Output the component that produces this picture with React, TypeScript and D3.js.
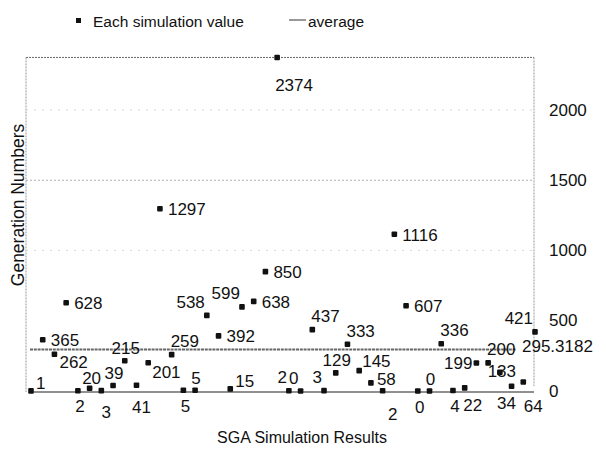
import React from "react";
import * as d3 from "d3";

// ---- data ----
const simulationValues: number[] = [
  1, 365, 262, 628, 2, 20, 3, 39, 215, 41, 201, 1297, 259, 5, 5, 538, 392, 15,
  599, 638, 850, 2374, 2, 0, 437, 3, 129, 333, 145, 58, 2, 1116, 607, 0, 0, 336,
  4, 22, 199, 200, 133, 34, 64, 421,
];
const averageValue = 295.3182;
const yTicks: number[] = [0, 500, 1000, 1500, 2000];
const gridValues: number[] = [1000, 1500, 2000];
const legendLabels: string[] = ["Each simulation value", "average"];
const xTitle = "SGA Simulation Results";
const yTitle = "Generation Numbers";
// label placement direction per point
const labelDir: string[] = [
  "ne", "e", "se2", "e", "s", "n2", "ss", "n", "n", "ss", "se", "e", "nn", "s", "n",
  "nw", "e", "ne", "nw", "e", "e", "S", "nw", "nw", "nn", "nw", "n", "nn", "ne3",
  "ne2", "ssR", "e", "e", "s", "n", "nn", "s", "sR", "w", "nn", "c", "sL", "ssR", "nw",
];

const dirStyle: Record<string, { dx: number; dy: number; anchor: string }> = {
  ne: { dx: 5, dy: -7, anchor: "start" },
  ne2: { dx: 6, dy: -3, anchor: "start" },
  ne3: { dx: 3, dy: -9, anchor: "start" },
  nn: { dx: -1, dy: -13, anchor: "start" },
  n: { dx: 1, dy: -12, anchor: "middle" },
  n2: { dx: 2, dy: -10, anchor: "middle" },
  nw: { dx: -2, dy: -13, anchor: "end" },
  e: { dx: 8, dy: 1, anchor: "start" },
  se: { dx: 4, dy: 10, anchor: "start" },
  se2: { dx: 5, dy: 8, anchor: "start" },
  s: { dx: 2, dy: 16, anchor: "middle" },
  sR: { dx: 8, dy: 18, anchor: "middle" },
  sL: { dx: -5, dy: 17, anchor: "middle" },
  ss: { dx: 5, dy: 22, anchor: "middle" },
  ssR: { dx: 10, dy: 24, anchor: "middle" },
  w: { dx: -4, dy: 0, anchor: "end" },
  S: { dx: -2, dy: 28, anchor: "start" },
  c: { dx: 2, dy: -1, anchor: "middle" },
};

const W = 606;
const H = 449;
const FONT = "'Liberation Sans', Arial, Helvetica, sans-serif";

export default function App() {
  const idx = simulationValues.map((_, i) => i);
  const x = d3.scalePoint<number>().domain(idx).range([31, 535]);
  const y = d3.scaleLinear().domain([0, 2000]).range([391, 110]);
  const yMax = d3.max(simulationValues) as number;
  const top = y(yMax);
  const left = 26;
  const right = 534;
  const bottom = y(0) + 1;

  return (
    <svg
      width={W}
      height={H}
      style={{ position: "absolute", left: 0, top: 0, background: "#fff" }}
      fontFamily={FONT}
    >
      <rect x={0} y={0} width={W} height={H} fill="#fff" />
      {/* legend */}
      <rect x={76} y={18} width={5} height={5} fill="#111" />
      <text x={93} y={21} fontSize={15.5} dominantBaseline="central" fill="#111">
        {legendLabels[0]}
      </text>
      <line x1={289} x2={306} y1={20} y2={20} stroke="#555" strokeWidth={1.2} />
      <text x={308} y={21} fontSize={15.5} dominantBaseline="central" fill="#111">
        {legendLabels[1]}
      </text>

      {/* plot frame */}
      <line x1={left} x2={right} y1={top} y2={top} stroke="#666" strokeWidth={1} strokeDasharray="2,1" />
      <line x1={left} x2={left} y1={top} y2={bottom} stroke="#999" strokeWidth={1} strokeDasharray="2,1" />
      <line x1={right} x2={right} y1={top} y2={bottom - 6} stroke="#999" strokeWidth={1} strokeDasharray="2,1" />

      {/* grid */}
      {gridValues.map((v) => (
        <line
          key={v}
          x1={left}
          x2={right}
          y1={y(v)}
          y2={y(v)}
          stroke={v === 1500 ? "#b0b0b0" : "#d8d8d8"}
          strokeWidth={1}
          strokeDasharray={v === 1500 ? "2,2" : "2,6"}
        />
      ))}

      {/* x axis line */}
      <line x1={x(0)} x2={right} y1={y(0) + 1} y2={y(0) + 1} stroke="#222" strokeWidth={1.1} />

      {/* average line */}
      <line
        x1={30}
        x2={516}
        y1={y(averageValue)}
        y2={y(averageValue)}
        stroke="#666"
        strokeWidth={2.2}
        strokeDasharray="3,0.8"
      />
      <text
        x={522}
        y={y(averageValue) - 3}
        fontSize={17}
        dominantBaseline="central"
        fill="#111"
      >
        {averageValue.toFixed(4)}
      </text>

      {/* right axis tick labels */}
      {yTicks.map((t) => (
        <text key={t} x={549} y={y(t)} fontSize={17} dominantBaseline="central" fill="#111">
          {t}
        </text>
      ))}

      {/* data labels */}
      {simulationValues.map((v, i) => {
        const s = dirStyle[labelDir[i]];
        return (
          <text
            key={"l" + i}
            x={(x(i) as number) + s.dx}
            y={y(v) + s.dy}
            fontSize={17}
            textAnchor={s.anchor}
            dominantBaseline="central"
            fill="#111"
          >
            {v}
          </text>
        );
      })}

      {/* points */}
      {simulationValues.map((v, i) => (
        <rect
          key={"p" + i}
          x={(x(i) as number) - 2.8}
          y={y(v) - 2.8}
          width={5.6}
          height={5.6}
          rx={1}
          fill="#111"
        />
      ))}

      {/* axis titles */}
      <text x={302} y={437} fontSize={16} textAnchor="middle" dominantBaseline="central" fill="#111">
        {xTitle}
      </text>
      <text
        transform={`translate(18,${205}) rotate(-90)`}
        fontSize={17.5}
        textAnchor="middle"
        dominantBaseline="central"
        fill="#111"
      >
        {yTitle}
      </text>
    </svg>
  );
}
